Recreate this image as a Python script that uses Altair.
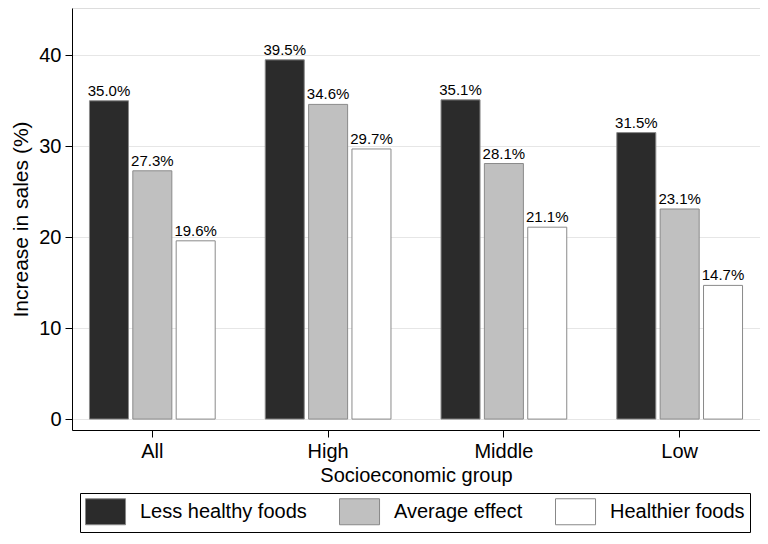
import altair as alt
import pandas as pd

groups = ["All", "High", "Middle", "Low"]
series = ["Less healthy foods", "Average effect", "Healthier foods"]
less_healthy = [35.0, 39.5, 35.1, 31.5]
average_effect = [27.3, 34.6, 28.1, 23.1]
healthier = [19.6, 29.7, 21.1, 14.7]
colors = ["#2b2b2b", "#c0c0c0", "#ffffff"]

rows = []
for i, g in enumerate(groups):
    for s, vals in zip(series, [less_healthy, average_effect, healthier]):
        rows.append({"group": g, "series": s, "value": vals[i]})
df = pd.DataFrame(rows)

FONT = "Liberation Sans"

x = alt.X("group:N", sort=groups, title="Socioeconomic group",
          scale=alt.Scale(paddingInner=0.26, paddingOuter=0.087),
          axis=alt.Axis(labelAngle=0, labelFontSize=20, titleFontSize=20,
                        labelFont=FONT, titleFont=FONT, titleFontWeight="normal",
                        tickSize=7, labelPadding=4, titlePadding=4,
                        domainColor="black", tickColor="black", labelColor="black",
                        titleColor="black"))
xo = alt.XOffset("series:N", sort=series,
                 scale=alt.Scale(paddingInner=0.1, paddingOuter=0.05))
y = alt.Y("value:Q", title="Increase in sales (%)",
          scale=alt.Scale(domain=[-1.2, 45.2], zero=False, nice=False),
          axis=alt.Axis(values=[0, 10, 20, 30, 40], labelFontSize=20, titleFontSize=21,
                        labelFont=FONT, titleFont=FONT, titleFontWeight="normal",
                        tickSize=7, labelPadding=4, titlePadding=7,
                        domainColor="black", tickColor="black", labelColor="black",
                        titleColor="black", grid=True, gridColor="#e6e6e6"))

legend = alt.Legend(
    title=None, orient="none", legendX=8, legendY=485, direction="horizontal",
    columns=3, columnPadding=30, labelFontSize=20, labelFont=FONT, labelColor="black",
    labelOffset=28, symbolType="M-1,-1H2.08V1H-1Z", symbolSize=676,
    symbolStrokeColor="#888888", symbolStrokeWidth=1, padding=5,
    strokeColor="black", fillColor="white", cornerRadius=0, labelLimit=300
)

bars = alt.Chart(df).mark_bar(stroke="#8a8a8a", strokeWidth=1).encode(
    x=x, xOffset=xo, y=y, y2=alt.datum(0),
    fill=alt.Fill("series:N", sort=series,
                  scale=alt.Scale(domain=series, range=colors), legend=legend),
)

texts = alt.Chart(df).transform_calculate(
    label="format(datum.value, '.1f') + '%'"
).mark_text(baseline="bottom", dy=-2, fontSize=15, font=FONT, color="black").encode(
    x=x, xOffset=xo, y=y, text="label:N"
)

chart = alt.layer(bars, texts).properties(
    width=688, height=422,
    autosize=alt.AutoSizeParams(type="none"),
    padding={"left": 64, "top": 0, "right": 0, "bottom": 106},
).configure_view(stroke=None).configure(background="white")

chart.save("out.html", embed_options={"renderer": "svg", "actions": False})
